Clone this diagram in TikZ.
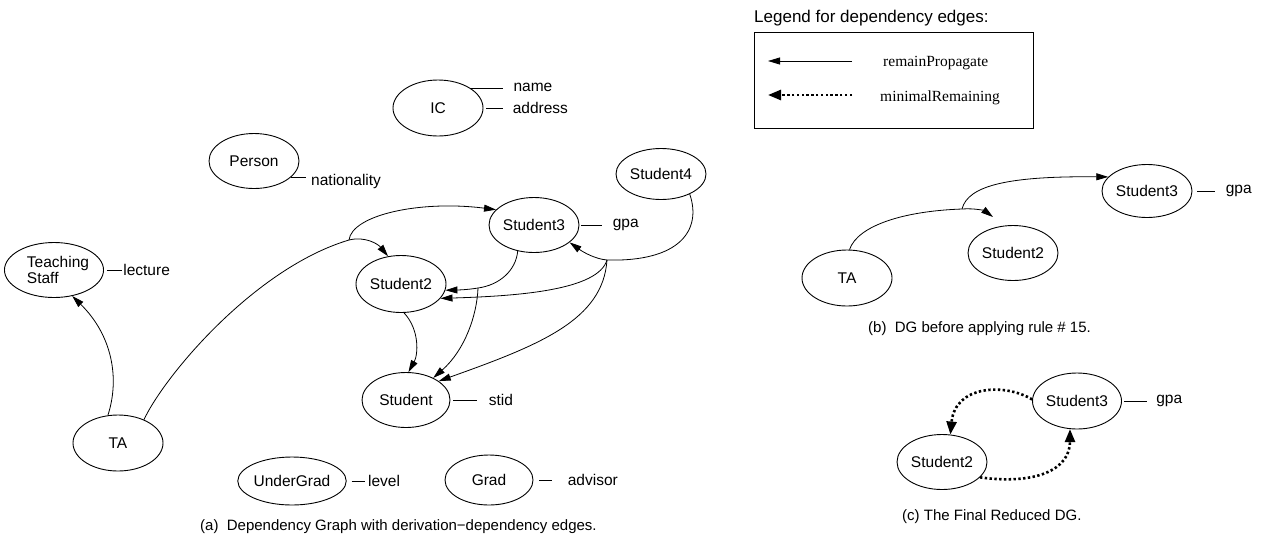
\documentclass[tikz,border=0pt]{standalone}
\usepackage{fontspec}
\setmainfont{Liberation Sans}
\newfontfamily\legendserif{Liberation Serif}
\usetikzlibrary{arrows.meta,shapes.geometric}

\begin{document}
\begin{tikzpicture}[x=1pt,y=-1pt,
  font=\fontsize{15.5}{16}\selectfont,
  ent/.style={ellipse, draw, line width=0.9pt, minimum width=90pt, minimum height=55pt, inner sep=0pt},
  attr/.style={anchor=west, inner sep=0pt},
  stub/.style={line width=0.8pt},
  dep/.style={line width=0.8pt, -{Triangle[length=12pt,width=7pt]}},
  mrem/.style={line width=2.6pt, dash pattern=on 2.4pt off 2.4pt, -{Triangle[length=13pt,width=10pt]}},
  legtext/.style={anchor=west, inner sep=0pt, font=\legendserif\fontsize{15.5}{16}\selectfont},
  caption/.style={anchor=west, inner sep=0pt, font=\fontsize{15}{16}\selectfont},
]
\useasboundingbox (0,0) rectangle (1265,552);

% ---------- (a) dependency graph ----------
\node[ent, minimum height=56pt] (ic) at (438,108) {IC};
\node[ent] (person) at (254,161) {Person};
\node[ent, align=left] (ts) at (54,270) {\hspace*{8pt}Teaching\\\hspace*{8pt}Staff};
\node[ent, minimum height=56pt] (ta) at (118,443) {TA};
\node[ent, minimum height=57pt] (s2) at (401,284) {Student2};
\node[ent] (s3) at (534,225) {Student3};
\node[ent, minimum height=51pt] (s4) at (661,174) {Student4};
\node[ent, minimum width=88pt] (st) at (406,400) {Student};
\node[ent, minimum width=91pt, minimum height=48pt] (ug) at (292,481) {UnderGrad};
\node[ent, minimum width=88pt, minimum height=50pt] (grad) at (489,480) {Grad};

% attributes
\draw[stub] (ic.32) -- ++(33,0) node[attr, xshift=10pt] (icname) {name};
\draw[stub] ([xshift=3pt]ic.east) -- ++(17,0) node[attr, xshift=9pt] (icaddr) {address};
\draw[stub] (person.-24) -- ++(15,0) node[attr, xshift=5pt, yshift=-4pt] (pnat) {nationality};
\draw[stub] ([xshift=3pt]ts.east) -- ++(15,0) node[attr, xshift=1pt] (tslec) {lecture};
\draw[stub] ([xshift=2pt]s3.east) -- ++(21,0) node[attr, xshift=10pt] (s3gpa) {gpa};
\draw[stub] ([xshift=3pt]st.east) -- ++(24,0) node[attr, xshift=11pt] (ststid) {stid};
\draw[stub] ([xshift=5pt]ug.east) -- ++(13,0) node[attr, xshift=3pt] (uglevel) {level};
\draw[stub] ([xshift=6pt]grad.east) -- ++(13,0) node[attr, xshift=15pt] (gradadv) {advisor};

% branch points of the dependency edges
\coordinate (j1) at (349,240);
\coordinate (j2) at (607,260);
\coordinate (j3) at (478,288);

\draw[dep] (ta.110) .. controls (120,378) and (112,335) .. (ts.-55);
\draw[dep] (ta.42) .. controls (165,375) and (255,268) .. (j1) .. controls (365,236) and (378,244) .. (s2.115);
\draw[dep] (j1) .. controls (352,215) and (420,200) .. (s3.158);
\draw[dep] (s3.238) .. controls (516,270) and (500,285) .. (j3) .. controls (466,290) and (456,290) .. (s2.-8);
\draw[dep] (j3) .. controls (477,315) and (465,350) .. (st.39);
\draw[dep] (s4.-35) .. controls (702,230) and (680,262) .. (j2) .. controls (595,259) and (583,252) .. (s3.-26);
\draw[dep] (j2) .. controls (598,290) and (520,296) .. (s2.-20);
\draw[dep] (j2) .. controls (603,320) and (540,345) .. (st.30);
\draw[dep] (s2.-84) .. controls (420,330) and (418,355) .. (st.85);

\node[caption] (capa) at (200,527) {(a)\ \ Dependency Graph with derivation−dependency edges.};

% ---------- legend ----------
\node[anchor=west, inner sep=0pt, font=\fontsize{17}{19}\selectfont] (legtitle) at (754,18) {Legend for dependency edges:};
\node[draw, line width=0.9pt, minimum width=279pt, minimum height=96pt, inner sep=0pt] (legbox) at (893.5,80) {};
\coordinate (lsa) at (852,61);
\coordinate (lsb) at (768,61);
\coordinate (lda) at (852,95);
\coordinate (ldb) at (768,95);
\draw[dep] (lsa) -- (lsb);
\draw[mrem] (lda) -- (ldb);
\node[legtext] (legrp) at (883,63) {remainPropagate};
\node[legtext] (legmr) at (880,98) {minimalRemaining};

% ---------- (b) before rule 15 ----------
\node[ent, minimum height=56pt] (tab) at (847,278) {TA};
\node[ent] (s2b) at (1013,253) {Student2};
\node[ent, minimum height=53pt] (s3b) at (1147,191) {Student3};
\draw[stub] ([xshift=5pt]s3b.east) -- ++(18,0) node[attr, xshift=10pt] (s3bgpa) {gpa};
\coordinate (jb) at (962,209);
\coordinate (tb) at (993,217);
\draw[dep] (tab.85) .. controls (858,225) and (905,211) .. (jb) .. controls (975,208) and (985,211) .. (tb);
\draw[dep] (jb) .. controls (968,185) and (1010,176) .. (s3b.160);
\node[caption] (capb) at (868,329) {(b)\ \ DG before applying rule \# 15.};

% ---------- (c) final reduced graph ----------
\node[ent, minimum width=89pt, minimum height=56pt] (s3c) at (1077,401) {Student3};
\node[ent] (s2c) at (942,462) {Student2};
\draw[stub] ([xshift=2pt]s3c.east) -- ++(23,0) node[attr, xshift=9pt] (s3cgpa) {gpa};
\draw[mrem] (s3c.178) .. controls (1005,383) and (955,385) .. (s2c.73);
\draw[mrem] (s2c.-22) .. controls (1035,485) and (1070,470) .. (s3c.-104);
\node[caption] (capc) at (902,517) {(c) The Final Reduced DG.};
\end{tikzpicture}
\end{document}
